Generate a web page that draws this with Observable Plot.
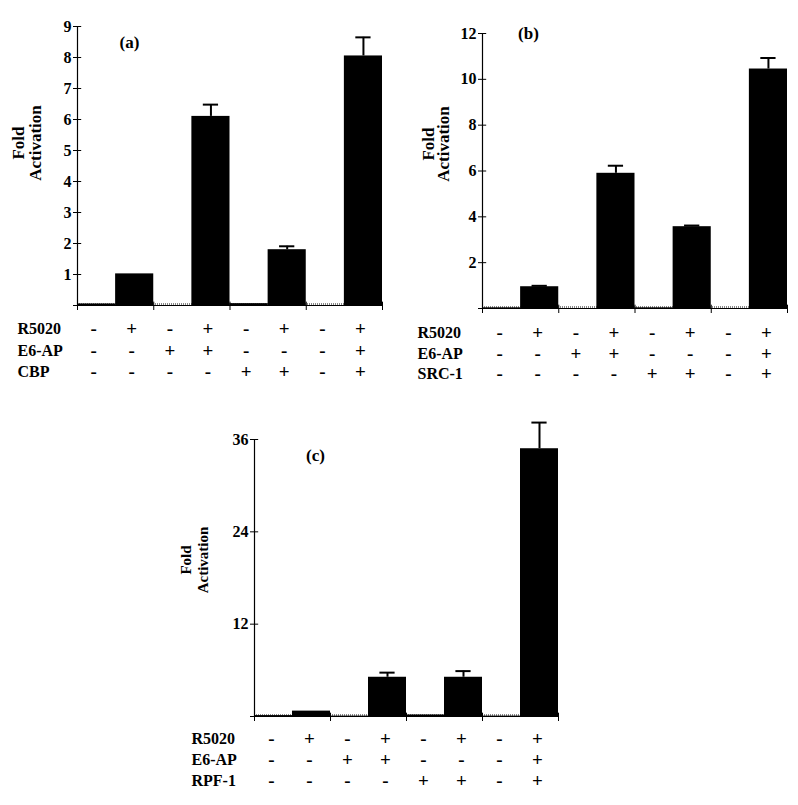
<!DOCTYPE html>
<html><head><meta charset="utf-8">
<script src="https://cdn.jsdelivr.net/npm/d3@7"></script>
<script src="https://cdn.jsdelivr.net/npm/@observablehq/plot@0.6"></script>
<style>
body{margin:0;background:#fff;}
#wrap{position:relative;width:798px;height:805px;overflow:hidden;}
#wrap svg{position:absolute;overflow:visible;}
#wrap svg text{font-family:'Liberation Serif','Times New Roman',serif;font-weight:bold;}
</style></head><body><div id="wrap"></div>
<script>
// ---- data ----
const slots = [0, 1, 2, 3, 4, 5, 6, 7];
const r5020 = ["-", "+", "-", "+", "-", "+", "-", "+"];
const e6ap  = ["-", "-", "+", "+", "-", "-", "-", "+"];
const cbp   = ["-", "-", "-", "-", "+", "+", "-", "+"];
const src1  = ["-", "-", "-", "-", "+", "+", "-", "+"];
const rpf1  = ["-", "-", "-", "-", "+", "+", "-", "+"];

const foldA = [0.05, 1.02, 0, 6.1, 0.06, 1.8, 0, 8.05];
const errA  = [null, null, null, 6.48, null, 1.91, null, 8.65];
const foldB = [0.03, 0.95, 0, 5.9, 0.03, 3.57, 0, 10.45];
const errB  = [null, 0.99, null, 6.23, null, 3.62, null, 10.93];
const foldC = [0.12, 0.7, 0.05, 5.1, 0.2, 5.1, 0.05, 34.8];
const errC  = [null, null, null, 5.7, null, 5.9, null, 38.2];

const ticksA = [0, 1, 2, 3, 4, 5, 6, 7, 8, 9];
const ticksB = [0, 2, 4, 6, 8, 10, 12];
const ticksC = [0, 12, 24, 36];
const groupTicks = [0, 2, 4, 6, 8];

const FONT = "'Liberation Serif', 'Times New Roman', serif";

function panel(o) {
  const data = slots.map(i => ({slot: i, value: o.values[i], err: o.errors[i]}));
  const errData = data.filter(d => d.err != null);
  const marks = [
    Plot.ruleY([0], {stroke: "#000", strokeWidth: 1}),
    Plot.ruleY([0], {stroke: "#888", strokeWidth: 2, strokeDasharray: "1,1", dy: -1.5}),
    Plot.rectY(data, {x1: d => d.slot, x2: d => d.slot + 1, y: "value", fill: "#000"}),
    Plot.ruleX(errData, {x: d => d.slot + 0.5, y1: "value", y2: "err", strokeWidth: 2}),
    Plot.ruleY(errData, {y: "err", x1: d => d.slot + 0.3, x2: d => d.slot + 0.7, strokeWidth: 2}),
    Plot.ruleX([0], {strokeWidth: 1.2}),
    Plot.axisY({ticks: o.ticks, tickSize: 4, tickPadding: 2, tickFormat: d => d === 0 ? "" : d,
      fontSize: 16, fontWeight: "bold", fontFamily: FONT}),
    Plot.ruleY(o.ticks, {y: d => d, x1: 0, x2: 0.11, strokeWidth: 1}),
    Plot.axisX({ticks: groupTicks, tickSize: 5, tickFormat: () => ""}),
    Plot.ruleX(groupTicks, {x: d => d, y1: 0, y2: o.yMax * 0.012, strokeWidth: 1}),
    Plot.text(["Fold"], {text: d => d, frameAnchor: "left", textAnchor: "middle", lineAnchor: "middle",
      rotate: -90, dx: o.foldDx[0], dy: o.foldDy,
      fontSize: o.foldSize, fontWeight: "bold", fontFamily: FONT}),
    Plot.text(["Activation"], {text: d => d, frameAnchor: "left", textAnchor: "middle", lineAnchor: "middle",
      rotate: -90, dx: o.foldDx[1], dy: o.foldDy,
      fontSize: o.foldSize, fontWeight: "bold", fontFamily: FONT}),
    Plot.text([o.label], {text: d => d, frameAnchor: "top-left", textAnchor: "middle", lineAnchor: "middle",
      dx: o.labelDx, dy: o.labelDy, fontSize: 17, fontWeight: "bold", fontFamily: FONT})
  ];
  o.rowNames.forEach((name, i) => {
    marks.push(Plot.text([name], {text: d => d, frameAnchor: "bottom-left", textAnchor: "start", lineAnchor: "middle",
      dx: o.rowDx, dy: o.rowDy[i], fontSize: 16, fontWeight: "bold", fontFamily: FONT}));
    marks.push(Plot.text(slots, {x: d => d + 0.5, frameAnchor: "bottom", lineAnchor: "middle", text: d => o.rows[i][d],
      dx: o.signDx, dy: o.rowDy[i], fontSize: 19, fontWeight: "bold", fontFamily: FONT}));
  });
  const svg = Plot.plot({
    width: o.width, height: o.height,
    marginLeft: o.m[0], marginRight: o.m[1], marginTop: o.m[2], marginBottom: o.m[3],
    x: {type: "linear", domain: [0, 8]},
    y: {domain: [0, o.yMax]},
    style: {fontFamily: FONT, fontSize: "16px", fontWeight: "bold", color: "#000", background: "transparent", overflow: "visible"},
    marks
  });
  svg.style.left = o.left + "px";
  svg.style.top = o.top + "px";
  document.getElementById("wrap").appendChild(svg);
}

panel({label: "(a)", values: foldA, errors: errA, ticks: ticksA, yMax: 9,
  rows: [r5020, e6ap, cbp], rowNames: ["R5020", "E6-AP", "CBP"],
  left: 0, top: 0, width: 400, height: 390, m: [77, 18, 26, 85],
  rowDx: -60, rowDy: [23, 45, 66], signDx: -3,
  foldDx: [-59, -42], foldDy: -23, foldSize: 17, labelDx: 52, labelDy: 16});

panel({label: "(b)", values: foldB, errors: errB, ticks: ticksB, yMax: 12,
  rows: [r5020, e6ap, src1], rowNames: ["R5020", "E6-AP", "SRC-1"],
  left: 400, top: 0, width: 398, height: 390, m: [82, 11, 33, 82],
  rowDx: -65, rowDy: [24, 45, 65], signDx: -2,
  foldDx: [-54, -39], foldDy: -27, foldSize: 17, labelDx: 46, labelDy: 0});

panel({label: "(c)", values: foldC, errors: errC, ticks: ticksC, yMax: 36,
  rows: [r5020, e6ap, rpf1], rowNames: ["R5020", "E6-AP", "RPF-1"],
  left: 180, top: 420, width: 400, height: 385, m: [74, 22, 19, 89],
  rowDx: -63, rowDy: [22, 43, 64], signDx: -2,
  foldDx: [-68, -51], foldDy: -18, foldSize: 15, labelDx: 61, labelDy: 16});
</script>
</body></html>
